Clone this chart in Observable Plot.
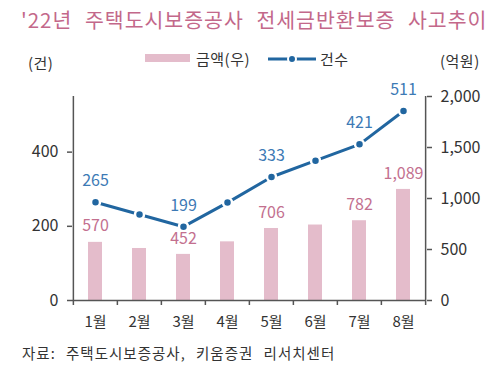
<!DOCTYPE html>
<html><head><meta charset="utf-8">
<script src="https://cdn.jsdelivr.net/npm/d3@7"></script>
<script src="https://cdn.jsdelivr.net/npm/@observablehq/plot@0.6"></script>
<style>
body{margin:0;background:#fff;font-family:"Noto Sans CJK KR","Noto Sans",sans-serif;color:#333;}
#wrap{position:relative;width:500px;height:375px;overflow:hidden;background:#fff}
.abs{position:absolute;white-space:nowrap;line-height:1}
#title{left:21px;top:9px;font-size:20.5px;color:#c3688a;letter-spacing:1px;word-spacing:7px}
#chart{position:absolute;left:0;top:80px}
.lg{font-size:15px;color:#333;letter-spacing:0.5px}
#caption{left:22px;top:346px;font-size:14.5px;color:#333;letter-spacing:1px;word-spacing:6px}
</style></head><body>
<div id="wrap">
<div id="title" class="abs">'22년 주택도시보증공사 전세금반환보증 사고추이</div>
<div class="abs lg" style="left:28px;top:55px">(건)</div>
<div class="abs lg" style="left:440px;top:53px">(억원)</div>
<div class="abs" style="left:145px;top:54px;width:45px;height:8px;background:#e4bccb"></div>
<div class="abs lg" style="left:196px;top:51px">금액(우)</div>
<svg class="abs" style="left:268px;top:52px" width="50" height="14"><line x1="0" y1="7" x2="48" y2="7" stroke="#2166a0" stroke-width="3"/><circle cx="24" cy="7" r="4" fill="#2166a0" stroke="#fff" stroke-width="2"/></svg>
<div class="abs lg" style="left:320px;top:51px">건수</div>
<div id="chart"></div>
<div id="caption" class="abs">자료: 주택도시보증공사, 키움증권 리서치센터</div>
</div>
<script>
const months = ["1월","2월","3월","4월","5월","6월","7월","8월"];
const amounts = [570, 510, 452, 575, 706, 740, 782, 1089];   // 억원 (right axis)
const counts = [265, 232, 199, 264, 333, 377, 421, 511];      // 건 (left axis)
const labeledMonths = ["1월","3월","5월","7월","8월"];
const countTicks = [0, 200, 400];
const amountTicks = [0, 500, 1000, 1500, 2000];
const countMax = 550;
const amountMax = 2000;

const ratio = countMax / amountMax;
const data = months.map((m, i) => ({month: m, amount: amounts[i], count: counts[i]}));
const labeled = data.filter(d => labeledMonths.includes(d.month));

const W = 500, H = 250, ML = 72, MR = 74, MT = 16, MB = 30;
const step = (W - ML - MR) / months.length;
const tickLen = 5 * countMax / (H - MT - MB);
const fmt = d3.format(",");

const plot = Plot.plot({
  width: W, height: H,
  marginLeft: ML, marginRight: MR, marginTop: MT, marginBottom: MB,
  style: {fontFamily: '"Noto Sans CJK KR","Noto Sans",sans-serif', fontSize: "15px", color: "#333", background: "transparent", overflow: "visible"},
  x: {domain: months, paddingInner: 0.68, paddingOuter: 0.34},
  y: {domain: [0, countMax]},
  marks: [
    Plot.barY(data, {x: "month", y: d => d.amount * ratio, fill: "#e4bccb"}),
    Plot.ruleY([0], {stroke: "#555", strokeWidth: 1.5}),
    Plot.ruleX(months, {x: d => d, y1: 0, y2: -tickLen, dx: -step / 2, stroke: "#555", strokeWidth: 1.5}),
    Plot.ruleX([months[months.length - 1]], {x: d => d, y1: 0, y2: -tickLen, dx: step / 2, stroke: "#555", strokeWidth: 1.5}),
    Plot.ruleX([months[0]], {x: d => d, y1: 0, y2: countMax, dx: -step / 2, stroke: "#555", strokeWidth: 1.5}),
    Plot.ruleX([months[months.length - 1]], {x: d => d, y1: 0, y2: countMax, dx: step / 2, stroke: "#555", strokeWidth: 1.5}),
    Plot.axisX({tickSize: 0, tickPadding: 16, label: null, fontSize: 15}),
    Plot.axisY({anchor: "left", ticks: countTicks, tickSize: 5, tickPadding: 9, label: null, stroke: "#555", strokeWidth: 1.5, fontSize: 16}),
    Plot.axisY({anchor: "right", ticks: amountTicks.map(t => t * ratio), tickFormat: d => fmt(Math.round(d / ratio)), tickSize: 5, tickPadding: 9, label: null, stroke: "#555", strokeWidth: 1.5, fontSize: 16}),
    Plot.lineY(data, {x: "month", y: "count", stroke: "#2166a0", strokeWidth: 3}),
    Plot.dot(data, {x: "month", y: "count", r: 4.5, fill: "#2166a0", stroke: "#fff", strokeWidth: 2.5}),
    Plot.text(labeled, {x: "month", y: d => d.amount * ratio, text: d => fmt(d.amount), dy: -16, fill: "#c3708f", fontSize: 16}),
    Plot.text(labeled, {x: "month", y: "count", text: d => fmt(d.count), dy: -21, fill: "#3d7ab5", fontSize: 16})
  ]
});
document.getElementById("chart").appendChild(plot);
</script>
</body></html>
